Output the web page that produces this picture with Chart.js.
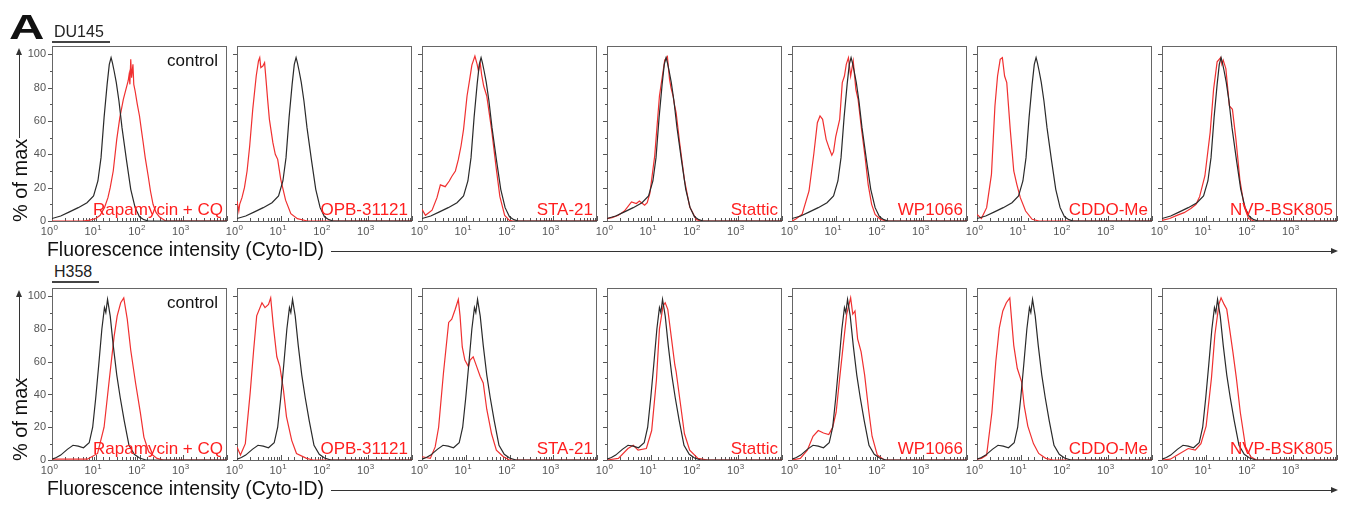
<!DOCTYPE html>
<html>
<head>
<meta charset="utf-8">
<script src="https://cdn.jsdelivr.net/npm/chart.js@4.4.1/dist/chart.umd.min.js"></script>
<style>
  body { margin: 0; background: #fff; }
  #fig { position: relative; width: 1351px; height: 506px; overflow: hidden; font-family: "Liberation Sans", Arial, sans-serif; }
  #fig canvas { position: absolute; }
  .txt { position: absolute; white-space: nowrap; line-height: 1; }
  .hline { position: absolute; height: 1px; background: #333; }
  .vline { position: absolute; width: 1px; background: #333; }
</style>
</head>
<body>
<div id="fig"></div>
<script>
// ---- data: [fluorescence intensity, % of max] ----
const cellLines = ["DU145", "H358"];
const treatments = ["Rapamycin + CQ", "OPB-31121", "STA-21", "Stattic", "WP1066", "CDDO-Me", "NVP-BSK805"];
const yTickValues = [0, 10, 20, 30, 40, 50, 60, 70, 80, 90, 100];
const xTickExponents = ["0", "1", "2", "3"];

const du145Control = [[1,1.5],[1.58,3],[2.51,5.5],[3.98,8],[6.31,11],[8.91,15],[11.2,24],[13.2,38],[15.5,62],[18.2,82],[20.4,94],[22.4,98],[24,95],[26.3,90],[29.5,83],[33.9,72],[39.8,56],[50.1,37],[63.1,19],[79.4,8],[100,2.5],[126,0.8],[158,0],[10000,0]];
const du145Rapamycin = [[1,0],[5,0],[7.4,0.5],[10,1.5],[12.6,3.4],[15.8,8],[19,14],[21.4,20],[25.1,30],[30.2,49],[35.5,62],[42.7,73],[50.1,80],[55,84],[58,88],[60.3,82],[63.1,97],[66,86],[70.8,94],[74,82],[79.4,78],[89.1,70],[100,63],[110,55],[120,48],[135,38],[158,27],[178,18],[204,10],[240,5],[288,2.4],[398,0],[10000,0]];
const du145Opb = [[1,12],[1.1,6],[1.15,10],[1.3,14],[1.48,20],[1.7,30],[1.95,45],[2.29,67],[2.75,87],[3.1,96],[3.31,98],[3.5,92],[3.9,93],[4.27,95],[4.6,85],[5.01,73],[5.5,61],[6.61,47],[7.5,40],[8.51,37],[10,25],[12.9,12.5],[17,4.4],[24,1.4],[40.7,0],[10000,0]];
const du145Sta21 = [[1,7],[1.2,3.4],[1.7,6.5],[2.2,14],[2.63,21.7],[3.39,20.6],[4.2,24],[4.79,26.7],[5.8,30],[6.76,36.8],[7.8,45],[8.91,55],[10.7,75],[12.3,85],[13.8,93.5],[16.2,99],[18.2,94],[19.5,90],[21.4,95],[23,88],[25.7,81],[30.2,75],[38.9,55],[50.1,31],[60.3,14.6],[77.6,3.4],[100,0.4],[120,0],[10000,0]];
const du145Stattic = [[1,1.4],[1.3,2],[1.82,3.4],[2.5,6],[3.63,11.5],[4.68,10.5],[5.5,12],[7.24,9.5],[8.3,11],[9.55,16.6],[12.3,39],[15.8,75],[20.9,96.6],[24,98.6],[26.9,85],[29,80],[32.4,75],[34.7,70],[38,65],[45.7,47],[58.9,24.7],[77.6,8.5],[110,0.8],[141,0],[10000,0]];
const du145Wp1066 = [[1,0],[1.2,1],[1.7,4],[2.45,18],[3.16,40.5],[3.8,59],[4.37,63],[5.01,61],[6.03,49],[7.08,43.6],[8.13,39.5],[8.91,41.6],[10,50.7],[12.3,61],[14.1,83],[15.8,87],[17.4,94],[19.5,98],[21.9,87],[25.1,96],[28.8,79],[32.4,73],[38.9,55],[46.8,38.5],[55,22],[66.1,10],[79.4,4],[105,1],[148,0],[10000,0]];
const du145Cddo = [[1,4],[1.26,1.5],[1.66,8],[2.14,28],[2.57,69],[2.95,87],[3.39,97],[3.8,98],[4.27,87],[4.79,83],[5.75,55],[6.92,30],[8.13,22],[9.77,14],[12.9,6],[18.2,1],[26.3,0],[10000,0]];
const du145Nvp = [[1,0.4],[1.5,1.5],[2.19,3.4],[3.2,5],[4.57,7.5],[6,10],[7.24,14.6],[9.55,27],[12.6,53],[15.1,79],[18.2,95.5],[21.9,98],[23.4,94],[25.1,96.5],[28.8,91.5],[34.7,69],[40.7,67],[49,49],[60.3,24.7],[75.9,8.5],[95.5,1.4],[126,0],[10000,0]];

const h358Control = [[1,0.5],[1.26,1.5],[1.58,3],[2.24,6.5],[3.02,9],[3.98,8.5],[5.25,7.5],[7.08,10.5],[8.51,20],[10,38],[11.7,58],[13.8,80],[15.8,93],[17,90],[18.6,98],[21.4,88],[25.1,70],[30.2,52],[36.3,38],[44.7,24],[57.5,9],[75.9,3.5],[100,1.2],[141,0],[10000,0]];
const h358Rapamycin = [[1,0.5],[6.46,0.5],[11,4],[15.5,20],[20,47],[26.3,75.5],[30.9,88],[37.2,96],[43.7,99],[52.5,86],[63.1,67],[81.3,47],[105,28.6],[126,14],[162,5],[251,1],[355,0],[10000,0]];
const h358Opb = [[1,8],[1.2,3],[1.55,10],[2,41],[2.4,67],[2.82,88],[3.72,96],[4.37,93],[5.25,95],[5.89,99],[6.76,82],[8.13,63],[9.55,57],[11.5,43],[13.5,26.5],[17.8,12],[22.9,4],[38.9,1],[55,0],[10000,0]];
const h358Sta21 = [[1,2],[1.55,1],[2,8],[2.4,20],[3.09,53],[4.07,84],[4.79,86],[5.75,92],[6.76,98],[7.41,88],[8.32,69],[9.55,61],[11.5,57],[12.6,61],[14.8,63],[17.8,57],[21.4,51],[25.1,47],[30.2,31],[38.9,16],[50.1,6],[72.4,2],[100,0],[10000,0]];
const h358Stattic = [[1,0],[1.82,1],[3.02,7],[3.98,9],[5.13,6],[7.94,7],[10.5,18],[13.5,49],[15.8,80],[19.1,94],[21.4,96],[24.5,92],[29.5,75],[35.5,58],[38,54],[45.7,38],[58.9,16],[77.6,6],[120,1],[200,0],[10000,0]];
const h358Wp1066 = [[1,0],[1.55,1],[2.24,6],[3.02,14.5],[3.98,18],[5.25,16.5],[6.92,15.5],[8.51,20],[10.2,29],[12.3,50],[14.8,70],[17.8,89],[21.9,99],[24.5,89],[27.5,91],[31.6,74],[38,66],[45.7,52],[56.2,31],[67.6,14.5],[89.1,3],[129,0],[10000,0]];
const h358Cddo = [[1,0.5],[1.26,1],[1.66,3],[2.19,29],[2.69,60],[3.24,80.7],[3.89,91],[4.68,96],[5.62,99],[6.92,70],[8.32,56],[10.5,47.6],[12,33],[14.5,20.7],[19.5,10],[25.7,4],[37.2,1],[55,0],[10000,0]];
const h358Nvp = [[1,0],[1.55,0.5],[2.24,3],[3.98,7],[5.75,6],[7.76,10],[10.2,20.7],[13.5,50],[16.2,76.6],[20,95],[22.4,99],[26.3,95],[30.2,92],[34.7,81],[41.7,66],[50.1,50],[61.7,29],[81.3,8],[107,2],[145,0],[10000,0]];

const controls = [du145Control, h358Control];
const treated = [
  [du145Rapamycin, du145Opb, du145Sta21, du145Stattic, du145Wp1066, du145Cddo, du145Nvp],
  [h358Rapamycin, h358Opb, h358Sta21, h358Stattic, h358Wp1066, h358Cddo, h358Nvp]
];

// ---- layout ----
const fig = document.getElementById("fig");
const panelLeft0 = 52, panelStep = 185, panelW = 175;
const rowTop = [46, 288];
const rowH = [175, 172];
const PAD = 3, XAXIS_H = 20;
const RED = "#f03030";
const INK = "#333";

function addText(text, left, top, css) {
  const d = document.createElement("div");
  d.className = "txt";
  d.textContent = text;
  d.style.left = left + "px";
  d.style.top = top + "px";
  Object.assign(d.style, css || {});
  fig.appendChild(d);
  return d;
}
function addBox(cls, left, top, w, h) {
  const d = document.createElement("div");
  d.className = cls;
  d.style.left = left + "px";
  d.style.top = top + "px";
  if (w != null) d.style.width = w + "px";
  if (h != null) d.style.height = h + "px";
  fig.appendChild(d);
  return d;
}
function arrowHead(left, top, dir) {
  const d = document.createElement("div");
  d.style.position = "absolute";
  d.style.left = left + "px";
  d.style.top = top + "px";
  d.style.width = "0"; d.style.height = "0";
  if (dir === "up") {
    d.style.borderLeft = "3px solid transparent";
    d.style.borderRight = "3px solid transparent";
    d.style.borderBottom = "7px solid " + INK;
  } else {
    d.style.borderTop = "3px solid transparent";
    d.style.borderBottom = "3px solid transparent";
    d.style.borderLeft = "7px solid " + INK;
  }
  fig.appendChild(d);
}

function isDecade(v) {
  const l = Math.log10(v);
  return Math.abs(l - Math.round(l)) < 1e-6;
}

// frame, tick marks and 10^n labels
const panelFrame = {
  id: "panelFrame",
  beforeDatasetsDraw(chart) {
    const { ctx, chartArea: a, scales } = chart;
    ctx.save();
    ctx.strokeStyle = "#555";
    ctx.lineWidth = 1;
    ctx.beginPath();
    scales.x.ticks.forEach(t => {
      const px = Math.round(scales.x.getPixelForValue(t.value)) + 0.5;
      const len = isDecade(t.value) ? 5 : 3;
      ctx.moveTo(px, a.bottom);
      ctx.lineTo(px, a.bottom - len);
    });
    scales.y.ticks.forEach(t => {
      const py = Math.round(scales.y.getPixelForValue(t.value)) + 0.5;
      const len = t.value % 20 === 0 ? 4 : 2;
      ctx.moveTo(a.left, py);
      ctx.lineTo(a.left - len, py);
    });
    ctx.stroke();
    ctx.strokeStyle = "#666";
    ctx.strokeRect(Math.round(a.left) + 0.5, Math.round(a.top) + 0.5,
                   Math.round(a.right - a.left) - 1, Math.round(a.bottom - a.top));

    // decade labels with a real superscript
    ctx.fillStyle = "#555";
    ctx.textBaseline = "alphabetic";
    xTickExponents.forEach((e, i) => {
      const px = scales.x.getPixelForValue(Math.pow(10, i));
      ctx.font = "11px 'Liberation Sans', Arial, sans-serif";
      ctx.textAlign = "right";
      ctx.fillText("10", px + 1, a.bottom + 14);
      ctx.font = "8px 'Liberation Sans', Arial, sans-serif";
      ctx.textAlign = "left";
      ctx.fillText(e, px + 1.5, a.bottom + 9);
    });
    ctx.restore();
  }
};

function makePanel(row, col) {
  const L = col === 0 ? 34 : 15;
  const left = panelLeft0 + col * panelStep;
  const top = rowTop[row];
  const cv = document.createElement("canvas");
  cv.width = L + panelW + PAD;
  cv.height = PAD + rowH[row] + XAXIS_H;
  cv.style.left = (left - L) + "px";
  cv.style.top = (top - PAD) + "px";
  fig.appendChild(cv);

  const line = (pairs, color) => ({
    data: pairs.map(p => ({ x: p[0], y: p[1] })),
    borderColor: color,
    borderWidth: 1.2,
    pointRadius: 0,
    tension: 0,
    fill: false
  });

  new Chart(cv.getContext("2d"), {
    type: "line",
    data: { datasets: [line(controls[row], "#2a2a2a"), line(treated[row][col], RED)] },
    options: {
      responsive: false,
      animation: false,
      events: [],
      layout: { padding: { top: PAD, right: PAD, left: 0, bottom: 0 } },
      plugins: { legend: { display: false }, tooltip: { enabled: false } },
      scales: {
        x: {
          type: "logarithmic",
          min: 1, max: 10000,
          grid: { display: false, drawTicks: false },
          border: { display: false },
          ticks: { display: false, autoSkip: false },
          afterFit: s => { s.height = XAXIS_H; s.paddingLeft = 0; s.paddingRight = 0; }
        },
        y: {
          min: 0, max: 105,
          grid: { display: false, drawTicks: false },
          border: { display: false },
          afterBuildTicks: s => { s.ticks = yTickValues.map(v => ({ value: v })); },
          ticks: {
            display: col === 0, padding: 6,
            color: "#555", font: { family: "Liberation Sans", size: 11 },
            callback: v => v % 20 === 0 ? String(v) : ""
          },
          afterFit: s => { s.width = L; s.paddingTop = 0; s.paddingBottom = 0; }
        }
      }
    },
    plugins: [panelFrame]
  });

  // panel texts
  const right = 1351 - (left + panelW);
  const bottom = top + rowH[row];
  const lab = addText(treatments[col], 0, bottom - 20, { fontSize: "17px", color: "#ff1e1e", lineHeight: "17px" });
  lab.style.left = "auto";
  lab.style.right = (right + 4) + "px";
  if (col === 0) {
    const c = addText("control", 0, top + 6, { fontSize: "17px", color: "#111", lineHeight: "17px" });
    c.style.left = "auto";
    c.style.right = (right + 9) + "px";
  }
}

for (let r = 0; r < 2; r++) {
  for (let c = 0; c < 7; c++) makePanel(r, c);
}

// panel letter and cell line titles
addText("A", 9, 9, { fontSize: "35px", fontWeight: "bold", color: "#111", transform: "scaleX(1.4)", transformOrigin: "0 0" });
const titleY = [24, 264];
const titleW = [58, 47];
for (let r = 0; r < 2; r++) {
  addText(cellLines[r], 54, titleY[r], { fontSize: "16px", color: "#222", lineHeight: "16px" });
  addBox("hline", 52, titleY[r] + 17, titleW[r], 2).style.background = "#444";
}

// axis titles with arrows
const axisRow = [{ base: 221, top: 46 }, { base: 460, top: 288 }];
axisRow.forEach(a => {
  addText("Fluorescence intensity (Cyto-ID)", 47, a.base + 19, { fontSize: "19.4px", color: "#111", lineHeight: "19px" });
  addBox("hline", 331, a.base + 30, 1000, 1);
  arrowHead(1331, a.base + 27, "right");
  addText("% of max", 10, a.base + 1, { fontSize: "20px", color: "#111", lineHeight: "20px", transform: "rotate(-90deg)", transformOrigin: "0 0" });
  addBox("vline", 19, a.top + 8, 1, 84);
  arrowHead(16, a.top + 2, "up");
});
</script>
</body>
</html>
